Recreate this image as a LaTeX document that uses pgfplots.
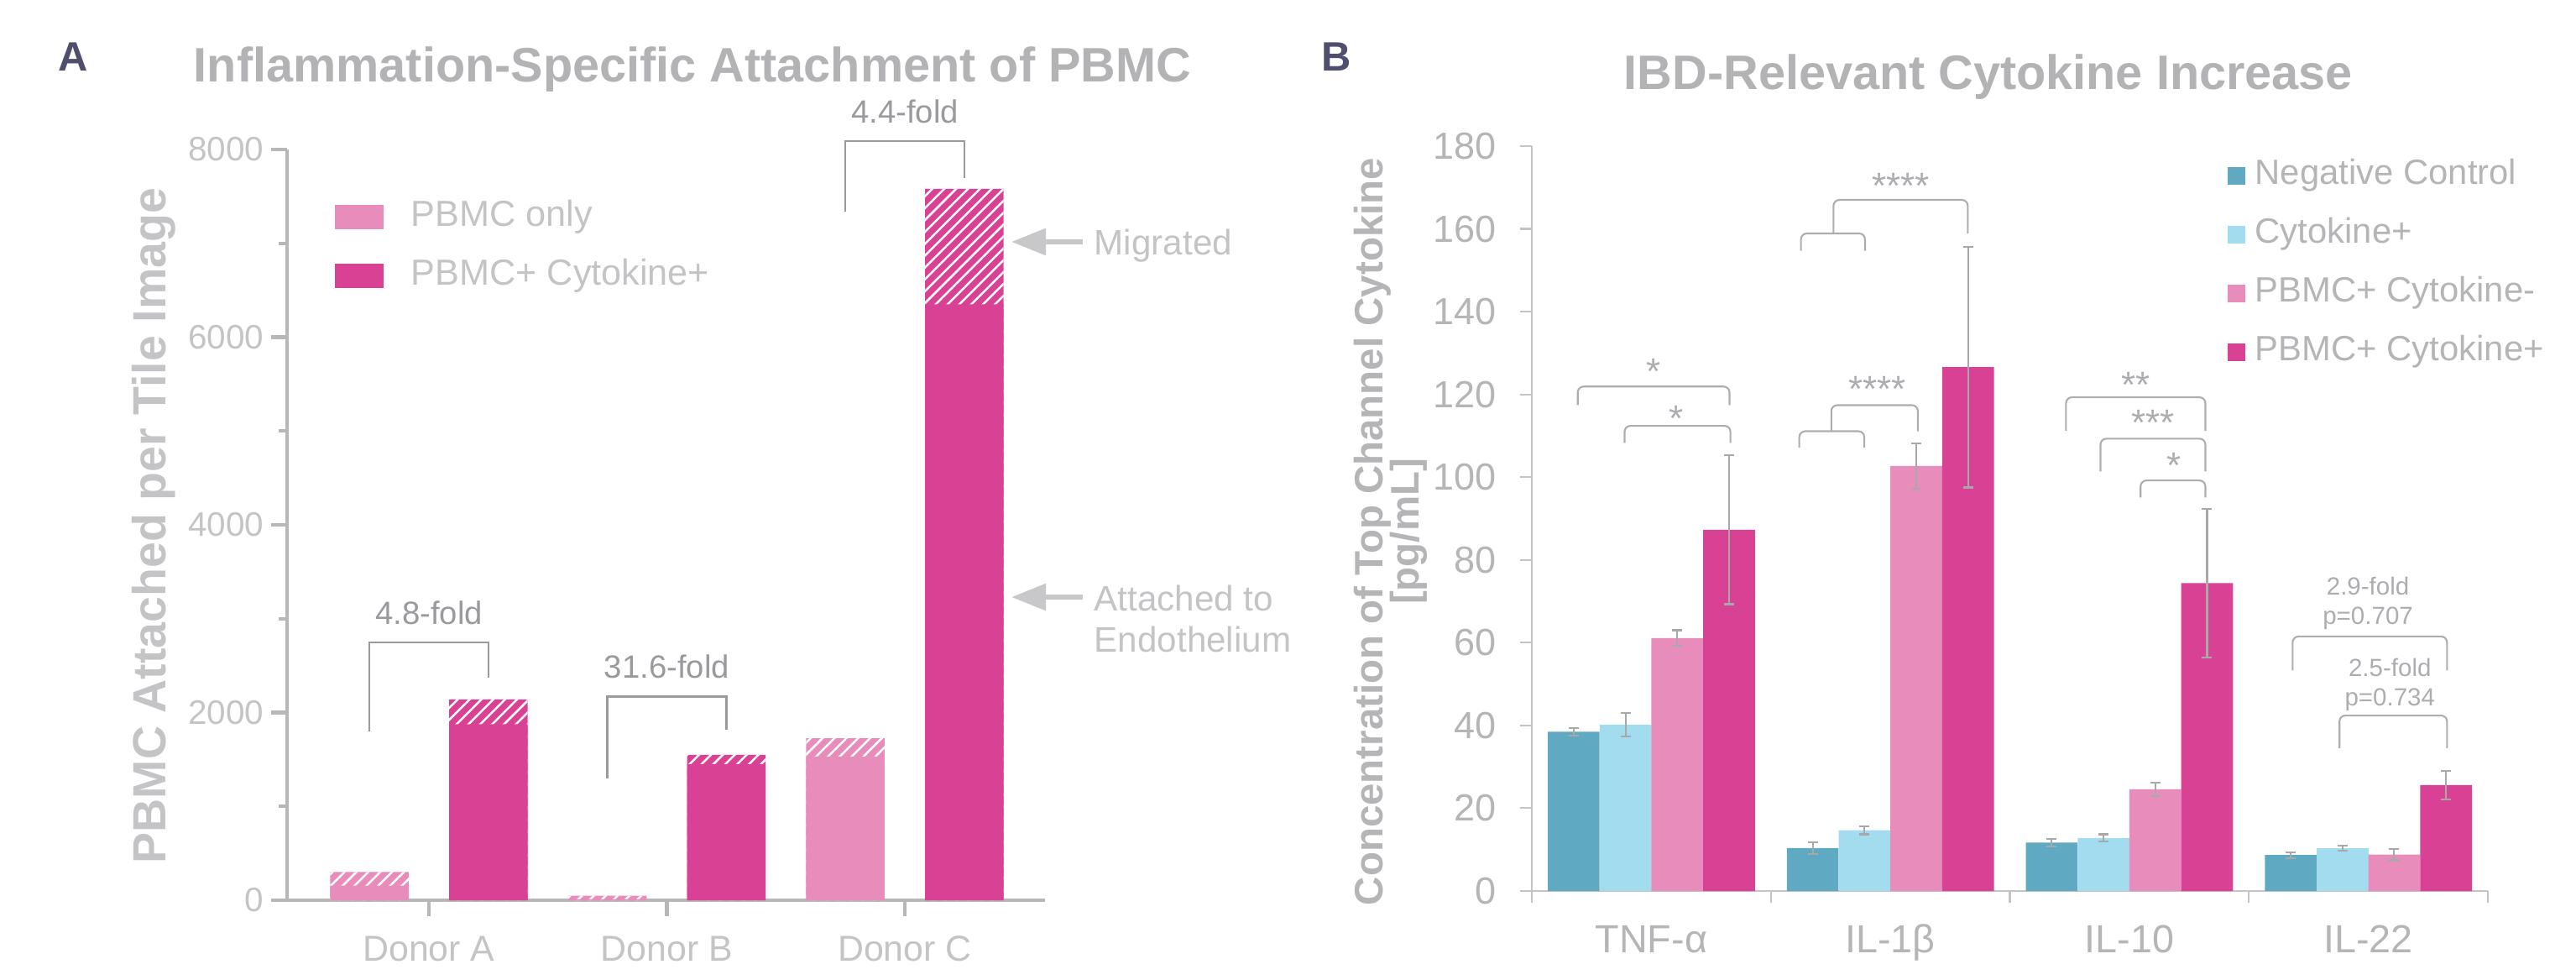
\documentclass[border=0pt]{standalone}
\usepackage{fontspec}
\setmainfont{Liberation Sans}
\usepackage{pgfplots}
\pgfplotsset{compat=1.18}
\usetikzlibrary{patterns.meta,arrows.meta}
\definecolor{cteal}{HTML}{5FAAC2}
\definecolor{clblue}{HTML}{A3DCEF}
\definecolor{cpink}{HTML}{E88CBB}
\definecolor{cmag}{HTML}{D94294}
\definecolor{ttl}{HTML}{B3B3B6}
\definecolor{lblA}{HTML}{C4C4C7}
\definecolor{lblB}{HTML}{B5B5B8}
\definecolor{axA}{HTML}{B7B7BA}
\definecolor{axB}{HTML}{C4C4C6}
\definecolor{brA}{HTML}{9A9A9E}
\definecolor{brB}{HTML}{ADADB1}
\definecolor{errg}{HTML}{A8A8AB}
\definecolor{arrg}{HTML}{C8C8CA}
\definecolor{letter}{HTML}{4F4F6D}
\newcommand{\fs}[1]{\fontsize{#1}{#1}\selectfont}
\tikzset{hatch/.style={postaction={pattern={Lines[angle=45,distance=0.1cm,line width=0.025cm]},pattern color=white}}}
\begin{document}
\begin{tikzpicture}[x=1cm,y=1cm]
\path[use as bounding box] (0,0) rectangle (30.69,11.66);
% ---------------- Panel A ----------------
\begin{axis}[
  at={(3.42cm,0.94cm)}, anchor=south west,
  scale only axis, width=9.03cm, height=8.94cm,
  xmin=-0.596, xmax=2.589, ymin=0, ymax=8000, enlargelimits=false,
  axis x line*=bottom, axis y line*=left,
  axis line style={draw=axA, line width=1.2pt},
  ytick={0,2000,4000,6000,8000}, yticklabels={0,2000,4000,6000,8000},
  minor ytick={1000,3000,5000,7000},
  xtick={0,1,2}, xticklabels={Donor A,Donor B,Donor C},
  tick align=outside, major tick length=0.19cm, minor tick length=0.1cm,
  tick style={draw=axA, line width=1.2pt},
  yticklabel style={font=\fs{11.5}, text=lblA, anchor=east, inner sep=0pt, xshift=-0.08cm},
  xticklabel style={font=\fs{12.2}, text=lblA, anchor=base, inner sep=0pt, yshift=-0.53cm},
  ybar, bar width=0.33, clip=false,
  legend style={at={(0.062,0.933)}, anchor=north west, draw=none, fill=none,
    font=\fs{12.3}, inner sep=0pt, row sep=0.3cm, column sep=0.33cm,
    nodes={text=lblA, inner sep=0pt, text height=0.31cm, text depth=0.09cm},
    cells={anchor=west}},
  legend image code/.code={\fill[#1] (0cm,-0.145cm) rectangle (0.58cm,0.145cm);},
]
% totals (attached + migrated), hatched top part
\addplot[fill=cpink, draw=none, bar shift=0pt, hatch, forget plot]
  coordinates {(-0.25,300) (0.75,49) (1.75,1725)};
\addplot[fill=cmag, draw=none, bar shift=0pt, hatch, forget plot]
  coordinates {(0.25,2140) (1.25,1550) (2.25,7580)};
% attached to endothelium (solid)
\addplot[fill=cpink, draw=none, bar shift=0pt]
  coordinates {(-0.25,155) (0.75,10) (1.75,1530)};
\addlegendentry{PBMC only}
\addplot[fill=cmag, draw=none, bar shift=0pt]
  coordinates {(0.25,1875) (1.25,1450) (2.25,6350)};
\addlegendentry{PBMC+ Cytokine+}
% fold brackets
\draw[brA, line width=0.7pt] (axis cs:-0.25,1803) -- (axis cs:-0.25,2747) -- (axis cs:0.25,2747) -- (axis cs:0.25,2367);
\node[font=\fs{10.9}, text=brA] at (axis cs:0,3065) {4.8-fold};
\draw[brA, line width=0.7pt] (axis cs:0.75,1297) -- (axis cs:0.75,2172) -- (axis cs:1.25,2172) -- (axis cs:1.25,1815);
\node[font=\fs{10.9}, text=brA] at (axis cs:1,2488) {31.6-fold};
\draw[brA, line width=0.7pt] (axis cs:1.75,7338) -- (axis cs:1.75,8089) -- (axis cs:2.25,8089) -- (axis cs:2.25,7696);
\node[font=\fs{10.9}, text=brA] at (axis cs:2,8403) {4.4-fold};
% arrows
\draw[arrg, line width=0.06cm, -{Triangle[length=0.41cm,width=0.31cm]}] (axis cs:2.748,7016) -- (axis cs:2.448,7016);
\node[anchor=base west, inner sep=0pt, font=\fs{12}, text=lblA] at (axis cs:2.794,6881) {Migrated};
\draw[arrg, line width=0.06cm, -{Triangle[length=0.41cm,width=0.31cm]}] (axis cs:2.748,3230) -- (axis cs:2.448,3230);
\node[anchor=base west, inner sep=0pt, font=\fs{12}, text=lblA] at (axis cs:2.794,3087) {Attached to};
\node[anchor=base west, inner sep=0pt, font=\fs{12}, text=lblA] at (axis cs:2.794,2640) {Endothelium};
\end{axis}
\node[anchor=base, inner sep=0pt, font=\fs{13.9}\bfseries, text=letter] at (0.87,10.81) {A};
\node[anchor=base, inner sep=0pt, font=\fs{16.4}\bfseries, text=ttl] at (8.25,10.68) {Inflammation-Specific Attachment of PBMC};
\node[anchor=base, inner sep=0pt, rotate=90, font=\fs{15.8}\bfseries, text=lblA] at (1.97,5.40) {PBMC Attached per Tile Image};
% ---------------- Panel B ----------------
\begin{axis}[
  at={(18.25cm,1.05cm)}, anchor=south west,
  scale only axis, width=11.39cm, height=8.87cm,
  xmin=-0.5, xmax=3.5, ymin=0, ymax=180, enlargelimits=false,
  axis x line*=bottom, axis y line*=left,
  x axis line style={draw=axB, line width=0.8pt},
  y axis line style={draw=axB, line width=0.6pt},
  ytick={0,20,40,60,80,100,120,140,160,180},
  yticklabels={0,20,40,60,80,100,120,140,160,180},
  xtick={-0.5,0.5,1.5,2.5,3.5}, xticklabels={},
  extra x ticks={0,1,2,3}, extra x tick labels={TNF-α,IL-1β,IL-10,IL-22},
  extra x tick style={major tick length=0pt},
  tick align=outside, major tick length=0.14cm,
  tick style={draw=axB, line width=0.6pt},
  yticklabel style={font=\fs{12.8}, text=lblB, anchor=east, inner sep=0pt, xshift=-0.28cm},
  xticklabel style={font=\fs{13.3}, text=lblB, anchor=base, inner sep=0pt, yshift=-0.73cm},
  ybar=0pt, bar width=0.2167, clip=false,
  legend style={at={(0.727,0.983)}, anchor=north west, draw=none, fill=none,
    font=\fs{11.9}, inner sep=0pt, row sep=0.31cm, column sep=0.12cm,
    nodes={text=lblB, inner sep=0pt, text height=0.3cm, text depth=0.09cm},
    cells={anchor=west}},
  legend image code/.code={\fill[#1] (0cm,-0.105cm) rectangle (0.21cm,0.105cm);},
  every axis plot/.append style={draw=none,
    error bars/y dir=both, error bars/y explicit,
    error bars/error bar style={errg, line width=0.6pt},
    error bars/error mark options={rotate=90, errg, line width=0.6pt, mark size=0.06cm}},
]
\addplot[fill=cteal, bar shift=-0.325] coordinates
  {(0,38.5) +- (0,0.9) (1,10.4) +- (0,1.4) (2,11.7) +- (0,0.9) (3,8.7) +- (0,0.7)};
\addlegendentry{Negative Control}
\addplot[fill=clblue, bar shift=-0.108] coordinates
  {(0,40.2) +- (0,2.8) (1,14.7) +- (0,1.0) (2,12.8) +- (0,0.9) (3,10.3) +- (0,0.6)};
\addlegendentry{Cytokine+}
\addplot[fill=cpink, bar shift=0.108] coordinates
  {(0,61.1) +- (0,1.9) (1,102.7) +- (0,5.5) (2,24.6) +- (0,1.6) (3,8.8) +- (0,1.4)};
\addlegendentry{PBMC+ Cytokine-}
\addplot[fill=cmag, bar shift=0.325] coordinates
  {(0,87.3) +- (0,18.0) (1,126.6) +- (0,29.1) (2,74.4) +- (0,17.9) (3,25.6) +- (0,3.5)};
\addlegendentry{PBMC+ Cytokine+}
% significance brackets
\tikzset{br/.style={brB, line width=0.6pt, rounded corners=2pt}, st/.style={anchor=base, inner sep=0pt, font=\fs{12.5}, text=brB}}
\draw[br] (axis cs:-0.308,117.4) -- (axis cs:-0.308,121.9) -- (axis cs:0.327,121.9) -- (axis cs:0.327,117.4);
\node[st] at (axis cs:0.01,122.4) {*};
\draw[br] (axis cs:-0.112,108.3) -- (axis cs:-0.112,112.4) -- (axis cs:0.331,112.4) -- (axis cs:0.331,108.3);
\node[st] at (axis cs:0.104,111.2) {*};
\draw[br] (axis cs:0.619,107.1) -- (axis cs:0.619,111.1) -- (axis cs:0.891,111.1) -- (axis cs:0.891,107.1);
\draw[br] (axis cs:0.753,111.1) -- (axis cs:0.753,117.4) -- (axis cs:1.115,117.4) -- (axis cs:1.115,111.1);
\node[st] at (axis cs:0.946,118.3) {****};
\draw[br] (axis cs:0.626,154.7) -- (axis cs:0.626,158.9) -- (axis cs:0.894,158.9) -- (axis cs:0.894,154.7);
\draw[br] (axis cs:0.762,158.9) -- (axis cs:0.762,167.0) -- (axis cs:1.324,167.0) -- (axis cs:1.324,158.9);
\node[st] at (axis cs:1.044,167.4) {****};
\draw[br] (axis cs:1.735,111.2) -- (axis cs:1.735,119.3) -- (axis cs:2.318,119.3) -- (axis cs:2.318,111.2);
\node[st] at (axis cs:2.026,119.3) {**};
\draw[br] (axis cs:1.879,101.4) -- (axis cs:1.879,109.3) -- (axis cs:2.318,109.3) -- (axis cs:2.318,101.4);
\node[st] at (axis cs:2.1,110.0) {***};
\draw[br] (axis cs:2.047,95.1) -- (axis cs:2.047,99.2) -- (axis cs:2.318,99.2) -- (axis cs:2.318,95.1);
\node[st] at (axis cs:2.188,99.8) {*};
\draw[br] (axis cs:2.683,53.3) -- (axis cs:2.683,61.5) -- (axis cs:3.329,61.5) -- (axis cs:3.329,53.3);
\node[anchor=base, inner sep=0pt, font=\fs{8.4}, text=brB] at (axis cs:2.998,71.5) {2.9-fold};
\node[anchor=base, inner sep=0pt, font=\fs{8.4}, text=brB] at (axis cs:2.998,64.4) {p=0.707};
\draw[br] (axis cs:2.879,34.5) -- (axis cs:2.879,42.4) -- (axis cs:3.329,42.4) -- (axis cs:3.329,34.5);
\node[anchor=base, inner sep=0pt, font=\fs{8.4}, text=brB] at (axis cs:3.09,51.8) {2.5-fold};
\node[anchor=base, inner sep=0pt, font=\fs{8.4}, text=brB] at (axis cs:3.09,44.7) {p=0.734};
\end{axis}
\node[anchor=base, inner sep=0pt, font=\fs{13.9}\bfseries, text=letter] at (15.92,10.81) {B};
\node[anchor=base, inner sep=0pt, font=\fs{16.4}\bfseries, text=ttl] at (23.69,10.59) {IBD-Relevant Cytokine Increase};
\node[anchor=base, inner sep=0pt, rotate=90, font=\fs{13.5}\bfseries, text=lblB] at (16.47,5.33) {Concentration of Top Channel Cytokine};
\node[anchor=base, inner sep=0pt, rotate=90, font=\fs{13.5}\bfseries, text=lblB] at (16.90,5.33) {[pg/mL]};
\end{tikzpicture}
\end{document}
